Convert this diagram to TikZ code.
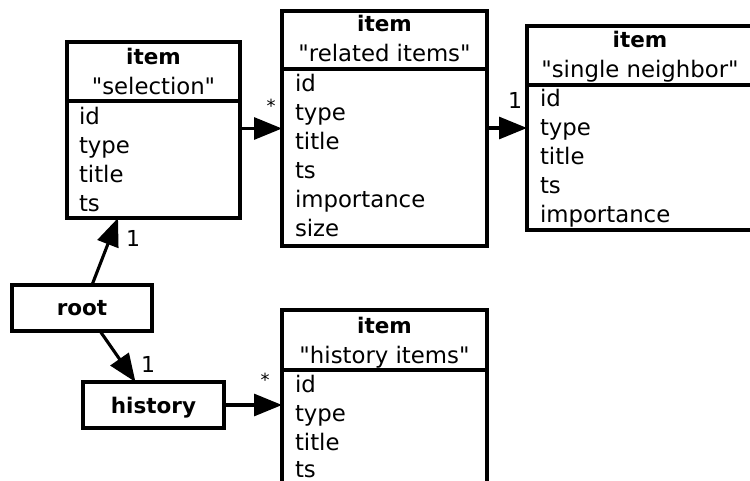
\documentclass[tikz,border=0pt]{standalone}
\usepackage{fontspec}
\newfontfamily\dvs{DejaVu Sans}
\usetikzlibrary{arrows.meta}
\begin{document}
\begin{tikzpicture}[x=1pt,y=-1pt,
  every node/.style={inner sep=0pt, outer sep=0pt},
  entity/.style={draw, line width=3.1pt, rectangle},
  field/.style={anchor=base west, font=\dvs\fontsize{22.8}{26}\selectfont},
  ttl/.style={anchor=base, font=\dvs\fontsize{22.8}{26}\selectfont},
  bttl/.style={anchor=base, font=\dvs\fontsize{21.5}{26}\selectfont\bfseries},
  sep/.style={line width=3.1pt},
  link/.style={line width=3.1pt, -{Triangle[length=28pt,width=22pt]}},
  mult/.style={font=\dvs\fontsize{22}{24}\selectfont},
  star/.style={font=\dvs\fontsize{18}{20}\selectfont}]
\useasboundingbox (0,0) rectangle (750,481);
\clip (0,0) rectangle (750,481);

% item "selection"
\node[entity, minimum width=173pt, minimum height=176pt] (sel) at (153.5,130) {};
\draw[sep] (sel.west |- 0,101) -- (sel.east |- 0,101);
\node[bttl] at (153.5,65) {item};
\node[ttl] at (153.5,95) {"selection"};
\node[field] at (79,125) {id};
\node[field] at (79,154) {type};
\node[field] at (79,183) {title};
\node[field] at (79,212) {ts};

% item "related items"
\node[entity, minimum width=205pt, minimum height=235pt] (rel) at (384.5,128.5) {};
\draw[sep] (rel.west |- 0,69) -- (rel.east |- 0,69);
\node[bttl] at (384.5,32) {item};
\node[ttl] at (384.5,62) {"related items"};
\node[field] at (295,92) {id};
\node[field] at (295,121) {type};
\node[field] at (295,150) {title};
\node[field] at (295,179) {ts};
\node[field] at (295,208) {importance};
\node[field] at (295,237) {size};

% item "single neighbor"
\node[entity, minimum width=226pt, minimum height=204pt] (sn) at (640,128) {};
\draw[sep] (sn.west |- 0,85) -- (sn.east |- 0,85);
\node[bttl] at (640,48) {item};
\node[ttl] at (640,78) {"single neighbor"};
\node[field] at (540,107) {id};
\node[field] at (540,136) {type};
\node[field] at (540,165) {title};
\node[field] at (540,194) {ts};
\node[field] at (540,223) {importance};

% root and history
\node[entity, minimum width=140pt, minimum height=46pt] (root) at (82,308) {};
\node[bttl] at (82,316) {root};
\node[entity, minimum width=141pt, minimum height=46pt] (hist) at (153.5,405) {};
\node[bttl] at (153.5,413) {history};

% item "history items"
\node[entity, minimum width=205pt, minimum height=190pt] (hi) at (384.5,405) {};
\draw[sep] (hi.west |- 0,370) -- (hi.east |- 0,370);
\node[bttl] at (384.5,333) {item};
\node[ttl] at (384.5,363) {"history items"};
\node[field] at (295,392) {id};
\node[field] at (295,421) {type};
\node[field] at (295,450) {title};
\node[field] at (295,477) {ts};

% associations
\draw[link] (sel.east |- rel.west) -- (rel.west);
\node[star] at (271,106) {*};
\draw[link] (rel.east |- sn.west) -- (sn.west);
\node[mult] at (515,100) {1};
\draw[link] ([xshift=10pt]root.north) -- ([xshift=-35.5pt]sel.south);
\node[mult] at (133,238) {1};
\draw[link] ([xshift=18pt]root.south) -- ([xshift=-18pt]hist.north);
\node[mult] at (148,364) {1};
\draw[link] (hist.east) -- (hist.east -| hi.west);
\node[star] at (265,380) {*};
\end{tikzpicture}
\end{document}
